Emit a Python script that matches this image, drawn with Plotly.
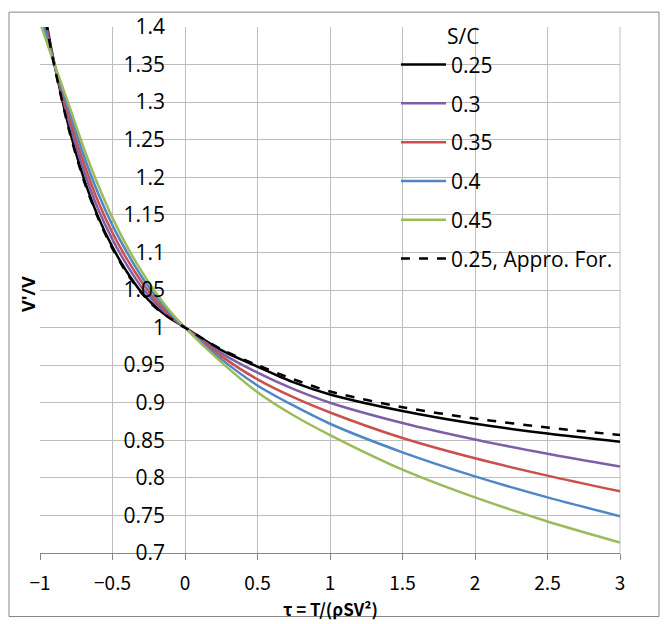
import plotly.graph_objects as go

# ---- data ----
tau = [-1.0, -0.95, -0.9, -0.8, -0.7, -0.6, -0.5, -0.4, -0.3, -0.2, -0.1, 0.0,
       0.25, 0.5, 0.75, 1.0, 1.5, 2.0, 2.5, 3.0]

sc_025 = [1.46, 1.40, 1.35, 1.266, 1.20, 1.148, 1.107, 1.074, 1.047, 1.027, 1.012, 1.0,
          0.970, 0.948, 0.927, 0.911, 0.889, 0.872, 0.859, 0.848]
sc_030 = [1.445, 1.395, 1.35, 1.274, 1.21, 1.158, 1.117, 1.083, 1.054, 1.032, 1.014, 1.0,
          0.966, 0.940, 0.918, 0.900, 0.873, 0.851, 0.832, 0.815]
sc_035 = [1.43, 1.39, 1.35, 1.281, 1.22, 1.168, 1.126, 1.091, 1.061, 1.036, 1.016, 1.0,
          0.962, 0.931, 0.907, 0.887, 0.853, 0.826, 0.803, 0.782]
sc_040 = [1.42, 1.385, 1.35, 1.289, 1.23, 1.179, 1.136, 1.100, 1.068, 1.041, 1.019, 1.0,
          0.958, 0.923, 0.896, 0.872, 0.834, 0.802, 0.774, 0.749]
sc_045 = [1.406, 1.378, 1.35, 1.296, 1.24, 1.19, 1.146, 1.108, 1.075, 1.046, 1.021, 1.0,
          0.954, 0.914, 0.883, 0.857, 0.811, 0.774, 0.742, 0.714]
sc_025_approx = [1.455, 1.397, 1.347, 1.263, 1.197, 1.146, 1.105, 1.072, 1.046, 1.026, 1.012, 1.0,
                 0.971, 0.950, 0.931, 0.915, 0.894, 0.879, 0.867, 0.857]

series_names = ["0.25", "0.3", "0.35", "0.4", "0.45", "0.25, Appro. For."]
series_values = [sc_025, sc_030, sc_035, sc_040, sc_045, sc_025_approx]
series_colors = ["#000000", "#7D5FA8", "#C9504D", "#4F86C6", "#9BBB59", "#000000"]
series_dash = ["solid", "solid", "solid", "solid", "solid", "dash"]

x_ticks = [-1, -0.5, 0, 0.5, 1, 1.5, 2, 2.5, 3]
y_ticks = [0.7, 0.75, 0.8, 0.85, 0.9, 0.95, 1.0, 1.05, 1.1, 1.15, 1.2, 1.25, 1.3, 1.35, 1.4]

# ---- figure ----
fig = go.Figure()
for i, (name, vals, col, dash) in enumerate(zip(series_names, series_values, series_colors, series_dash)):
    fig.add_trace(go.Scatter(
        x=tau, y=vals, name=name, mode="lines",
        line=dict(color=col, width=2.5, dash=dash, shape="spline", smoothing=0.8),
        legendgroup=f"g{i}",
    ))

W, H = 667, 624
ml, mr, mt, mb = 40, 47, 23, 71
pw, ph = W - ml - mr, H - mt - mb

def px2paper_x(px):
    return (px - ml) / pw

def px2paper_y(py):
    return (H - mb - py) / ph

label_font = dict(family="Open Sans, Noto Sans, sans-serif", size=21, color="#000000")

fig.update_layout(
    width=W, height=H,
    margin=dict(l=ml, r=mr, t=mt, b=mb),
    paper_bgcolor="white", plot_bgcolor="white",
    showlegend=True,
    legend=dict(
        title=dict(text="\u00a0\u00a0\u00a0\u00a0\u00a0\u00a0\u00a0\u00a0\u00a0S/C",
                   font=label_font),
        font=label_font,
        x=px2paper_x(396), y=px2paper_y(13), xanchor="left", yanchor="top",
        bgcolor="rgba(0,0,0,0)", borderwidth=0,
        tracegroupgap=8.5, itemwidth=45,
    ),
    xaxis=dict(
        range=[-1, 3], tickvals=x_ticks,
        showgrid=True, gridcolor="#BEBEBE", gridwidth=1,
        zeroline=False, showline=True, linecolor="#868686", linewidth=1,
        ticks="outside", ticklen=6, tickcolor="#868686",
        ticklabelstandoff=7,
        tickfont=dict(family="Noto Sans CJK JP, sans-serif", size=19, color="#000000"),
    ),
    yaxis=dict(
        range=[0.7, 1.4], tickvals=y_ticks,
        showgrid=True, gridcolor="#BEBEBE", gridwidth=1,
        zeroline=False, showline=False, ticks="",
        anchor="free", position=px2paper_x(185), side="left",
        ticklabelstandoff=20,
        tickfont=label_font,
    ),
    annotations=[
        dict(text="<b>V'/V</b>", textangle=-90, x=px2paper_x(28), y=px2paper_y(292),
             xref="paper", yref="paper", showarrow=False, xanchor="center", yanchor="middle",
             font=dict(family="Noto Sans, sans-serif", size=18, color="#000000")),
        dict(text="<b>τ = T/(ρSV²)</b>", x=px2paper_x(331), y=px2paper_y(609),
             xref="paper", yref="paper", showarrow=False, xanchor="center", yanchor="middle",
             font=dict(family="Noto Sans CJK JP, sans-serif", size=17, color="#000000")),
    ],
    shapes=[
        dict(type="rect", xref="paper", yref="paper",
             x0=px2paper_x(9), x1=px2paper_x(659), y0=px2paper_y(617), y1=px2paper_y(8),
             line=dict(color="#868686", width=1), fillcolor="rgba(0,0,0,0)", layer="below"),
        dict(type="line", xref="paper", yref="paper",
             x0=1, x1=1, y0=0, y1=1, line=dict(color="#BEBEBE", width=1), layer="below"),
    ],
)

fig.write_html("out.html")
